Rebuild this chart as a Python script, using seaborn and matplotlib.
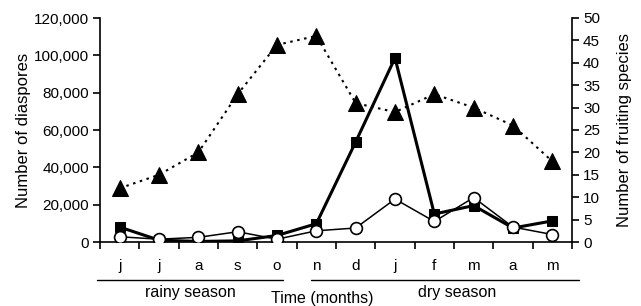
import matplotlib
matplotlib.use("Agg")
import matplotlib.pyplot as plt
from matplotlib.lines import Line2D
from matplotlib.ticker import FuncFormatter, MultipleLocator
import seaborn as sns
import pandas as pd

months = ["j", "j", "a", "s", "o", "n", "d", "j", "f", "m", "a", "m"]
diaspores_a = [8000, 1000, 300, 600, 3500, 9800, 53600, 98600, 15000, 19500, 7500, 11300]
diaspores_b = [2800, 1500, 2500, 5500, 1500, 6000, 7500, 23000, 11000, 23800, 8000, 4000]
fruiting_species = [12, 15, 20, 33, 44, 46, 31, 29, 33, 30, 26, 18]

sns.set_theme(style="white")
plt.rcParams["font.family"] = ["Liberation Sans", "DejaVu Sans"]
for k in ("text.color", "axes.labelcolor", "xtick.color", "ytick.color"):
    plt.rcParams[k] = "black"

df = pd.DataFrame({
    "pos": range(len(months)),
    "a": diaspores_a,
    "b": diaspores_b,
    "species": fruiting_species,
})

fig = plt.figure(figsize=(6.41, 3.06), dpi=100)
ax = fig.add_axes([100 / 641, 1 - 242 / 306, 472 / 641, 224 / 306])
ax2 = ax.twinx()

sns.lineplot(data=df, x="pos", y="species", ax=ax2, color="black", lw=1.5,
             linestyle=(0, (1.2, 2.2)), marker="^", markersize=11,
             markeredgecolor="black", markerfacecolor="black", zorder=2)
sns.lineplot(data=df, x="pos", y="a", ax=ax, color="black", lw=2.2,
             marker="s", markersize=7.5, markeredgecolor="black",
             markerfacecolor="black", zorder=3)
sns.lineplot(data=df, x="pos", y="b", ax=ax, color="black", lw=1.1,
             marker="o", markersize=8.5, markeredgecolor="black",
             markerfacecolor="white", markeredgewidth=1.2, zorder=4)

# left axes above the twin so diaspore lines sit on top of the triangles
ax.set_zorder(ax2.get_zorder() + 1)
ax.patch.set_visible(False)

for a in (ax, ax2):
    a.set_xlim(-0.5, len(months) - 0.5)
    a.spines["top"].set_visible(False)
    for s in a.spines.values():
        s.set_color("black")
        s.set_linewidth(1.2)
ax.spines["right"].set_visible(False)
ax2.spines["left"].set_visible(False)
ax2.spines["bottom"].set_visible(False)

ax.set_ylim(0, 120000)
ax.yaxis.set_major_locator(MultipleLocator(20000))
ax.yaxis.set_major_formatter(FuncFormatter(lambda v, p: f"{int(v):,}"))
ax2.set_ylim(0, 50)
ax2.yaxis.set_major_locator(MultipleLocator(5))

ax.set_xticks(range(len(months)))
ax.set_xticklabels(months)
ax.set_xticks([i - 0.5 for i in range(len(months) + 1)], minor=True)
ax.tick_params(axis="x", which="major", length=0, pad=12, labelsize=11)
ax.tick_params(axis="x", which="minor", direction="out", length=5, width=1.2,
               bottom=True, color="black")
ax.tick_params(axis="y", direction="out", length=5, width=1.2, left=True,
               labelsize=11, pad=3, color="black")
ax2.tick_params(axis="y", direction="out", length=5, width=1.2, right=True,
                labelsize=11, pad=3, color="black")

ax.set_xlabel("")
ax.set_ylabel("Number of diaspores", fontsize=12, labelpad=2)
ax2.set_ylabel("Number of fruiting species", fontsize=12, labelpad=12)

# season brackets under the month labels
for x0, x1 in [(97, 283), (311, 579)]:
    fig.add_artist(Line2D([x0 / 641, x1 / 641], [1 - 280 / 306] * 2,
                          color="black", lw=1))
fig.text(190 / 641, 1 - 292 / 306, "rainy season", ha="center", va="center",
         fontsize=11.5)
fig.text(457 / 641, 1 - 292 / 306, "dry season", ha="center", va="center",
         fontsize=11.5)
fig.text(322 / 641, 1 - 298 / 306, "Time (months)", ha="center", va="center",
         fontsize=11.5)

fig.savefig("out.png", dpi=100)
